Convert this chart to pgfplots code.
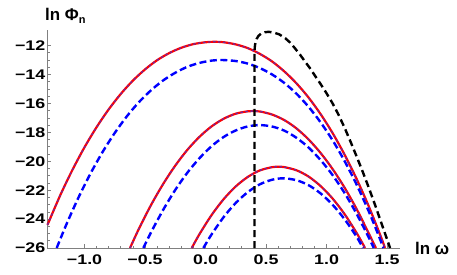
\documentclass[border=0pt]{standalone}
\usepackage{fontspec}
\setmainfont{Liberation Sans}
\newfontfamily\tickfont[FakeStretch=1.28]{Liberation Sans}
\usepackage{pgfplots}
\pgfplotsset{compat=1.18}
\usetikzlibrary{calc}
\definecolor{redc}{rgb}{1,0,0}
\definecolor{purp}{RGB}{110,40,160}
\definecolor{bluec}{rgb}{0,0,1}
\begin{document}
\begin{tikzpicture}
\begin{axis}[name=ax,
  scale only axis, width=352.5bp, height=217.9bp,
  xmin=-1.306, xmax=1.607, ymin=-26, ymax=-10.93,
  axis lines=left, axis line style={-, black!50, line width=0.8bp},
  tick align=inside,
  major tick length=4bp, minor tick length=2.4bp,
  tick style={black!50, line width=0.7bp},
  xtick={-1,-0.5,0,0.5,1,1.5},
  xticklabels={−1.0,−0.5,0.0,0.5,1.0,1.5},
  minor x tick num=4,
  ytick={-26,-24,-22,-20,-18,-16,-14,-12},
  yticklabels={−26,−24,−22,−20,−18,−16,−14,−12},
  minor y tick num=3,
  xticklabel style={font=\tickfont\bfseries\fontsize{14}{14}\selectfont, inner sep=0pt, anchor=north, yshift=-7bp},
  yticklabel style={font=\tickfont\bfseries\fontsize{14}{14}\selectfont, inner sep=0pt, anchor=east, xshift=-2bp},
  clip=false,
]
% red top (A)
\addplot[redc, line width=2.2bp, smooth] coordinates {
(-1.306,-24.40) (-1.2,-22.34) (-1.1,-20.60) (-1.0,-19.03) (-0.9,-17.64) (-0.8,-16.41) (-0.7,-15.34) (-0.6,-14.42) (-0.5,-13.65) (-0.4,-13.01) (-0.3,-12.52) (-0.2,-12.15) (-0.1,-11.90) (0.0,-11.77) (0.07,-11.74) (0.15,-11.77) (0.25,-11.92) (0.35,-12.18) (0.45,-12.58) (0.55,-13.10) (0.65,-13.78) (0.75,-14.60) (0.85,-15.58) (0.95,-16.73) (1.05,-18.05) (1.15,-19.56) (1.25,-21.25) (1.35,-23.14) (1.45,-25.24) (1.483,-26.0)};
\addplot[purp, line width=1.3bp, smooth, dash pattern=on 2.5bp off 2.5bp] coordinates {
(-1.306,-24.40) (-1.2,-22.34) (-1.1,-20.60) (-1.0,-19.03) (-0.9,-17.64) (-0.8,-16.41) (-0.7,-15.34) (-0.6,-14.42) (-0.5,-13.65) (-0.4,-13.01) (-0.3,-12.52) (-0.2,-12.15) (-0.1,-11.90) (0.0,-11.77) (0.07,-11.74) (0.15,-11.77) (0.25,-11.92) (0.35,-12.18) (0.45,-12.58) (0.55,-13.10) (0.65,-13.78) (0.75,-14.60) (0.85,-15.58) (0.95,-16.73) (1.05,-18.05) (1.15,-19.56) (1.25,-21.25) (1.35,-23.14) (1.45,-25.24) (1.483,-26.0)};
% blue top (A')
\addplot[bluec, line width=2.4bp, smooth, dash pattern=on 7bp off 3.5bp] coordinates {
(-1.23,-26.0) (-1.15,-24.37) (-1.05,-22.51) (-0.95,-20.84) (-0.85,-19.35) (-0.75,-18.04) (-0.65,-16.89) (-0.55,-15.91) (-0.45,-15.09) (-0.35,-14.41) (-0.25,-13.88) (-0.15,-13.47) (-0.05,-13.20) (0.05,-13.04) (0.14,-13.0) (0.25,-13.07) (0.35,-13.25) (0.45,-13.56) (0.55,-14.00) (0.65,-14.58) (0.75,-15.32) (0.85,-16.22) (0.95,-17.30) (1.05,-18.55) (1.15,-20.00) (1.25,-21.64) (1.35,-23.49) (1.43,-25.13) (1.47,-26.0)};
% red middle (B)
\addplot[redc, line width=2.2bp, smooth] coordinates {
(-0.624,-26.0) (-0.55,-24.66) (-0.45,-23.02) (-0.35,-21.57) (-0.25,-20.30) (-0.15,-19.21) (-0.05,-18.31) (0.05,-17.59) (0.15,-17.06) (0.25,-16.71) (0.35,-16.545) (0.39,-16.53) (0.45,-16.56) (0.55,-16.77) (0.65,-17.15) (0.75,-17.72) (0.85,-18.48) (0.95,-19.42) (1.05,-20.54) (1.15,-21.84) (1.25,-23.33) (1.35,-25.01) (1.408,-26.0)};
\addplot[purp, line width=1.3bp, smooth, dash pattern=on 2.5bp off 2.5bp] coordinates {
(-0.624,-26.0) (-0.55,-24.66) (-0.45,-23.02) (-0.35,-21.57) (-0.25,-20.30) (-0.15,-19.21) (-0.05,-18.31) (0.05,-17.59) (0.15,-17.06) (0.25,-16.71) (0.35,-16.545) (0.39,-16.53) (0.45,-16.56) (0.55,-16.77) (0.65,-17.15) (0.75,-17.72) (0.85,-18.48) (0.95,-19.42) (1.05,-20.54) (1.15,-21.84) (1.25,-23.33) (1.35,-25.01) (1.408,-26.0)};
% blue middle (B')
\addplot[bluec, line width=2.4bp, smooth, dash pattern=on 7bp off 3.5bp] coordinates {
(-0.514,-26.0) (-0.45,-24.91) (-0.35,-23.36) (-0.25,-21.98) (-0.15,-20.79) (-0.05,-19.79) (0.05,-18.96) (0.15,-18.32) (0.25,-17.87) (0.35,-17.59) (0.45,-17.5) (0.55,-17.60) (0.65,-17.88) (0.75,-18.37) (0.85,-19.04) (0.95,-19.91) (1.05,-20.96) (1.15,-22.21) (1.25,-23.66) (1.35,-25.29) (1.39,-26.0)};
% red bottom (C)
\addplot[redc, line width=2.2bp, smooth] coordinates {
(-0.114,-26.0) (-0.05,-25.04) (0.05,-23.72) (0.15,-22.62) (0.25,-21.74) (0.35,-21.08) (0.45,-20.63) (0.55,-20.41) (0.602,-20.38) (0.65,-20.405) (0.75,-20.62) (0.85,-21.05) (0.95,-21.71) (1.05,-22.58) (1.15,-23.67) (1.25,-24.98) (1.318,-26.0)};
\addplot[purp, line width=1.3bp, smooth, dash pattern=on 2.5bp off 2.5bp] coordinates {
(-0.114,-26.0) (-0.05,-25.04) (0.05,-23.72) (0.15,-22.62) (0.25,-21.74) (0.35,-21.08) (0.45,-20.63) (0.55,-20.41) (0.602,-20.38) (0.65,-20.405) (0.75,-20.62) (0.85,-21.05) (0.95,-21.71) (1.05,-22.58) (1.15,-23.67) (1.25,-24.98) (1.318,-26.0)};
% blue bottom (C')
\addplot[bluec, line width=2.4bp, smooth, dash pattern=on 7bp off 3.5bp] coordinates {
(-0.018,-26.0) (0.05,-25.06) (0.15,-23.86) (0.25,-22.88) (0.35,-22.13) (0.45,-21.59) (0.55,-21.28) (0.643,-21.18) (0.75,-21.31) (0.85,-21.65) (0.95,-22.22) (1.05,-23.01) (1.15,-24.02) (1.25,-25.24) (1.30,-26.0)};
% black dashed
\addplot[black, line width=2.4bp, dash pattern=on 7bp off 4bp] coordinates {
(0.405,-26.0) (0.405,-12.4) (0.407,-12.1) (0.412,-11.8) (0.422,-11.55) (0.437,-11.33) (0.46,-11.17) (0.49,-11.08) (0.52,-11.05) (0.56,-11.09) (0.61,-11.23) (0.66,-11.5) (0.70,-11.8) (0.74,-12.2) (0.78,-12.62) (0.82,-13.08) (0.86,-13.53) (0.90,-14.03) (0.95,-14.65) (1.00,-15.3) (1.05,-16.0) (1.10,-16.8) (1.15,-17.7) (1.20,-18.68) (1.25,-19.7) (1.30,-20.75) (1.35,-21.85) (1.40,-23.0) (1.45,-24.2) (1.50,-25.4) (1.525,-26.0)};
\end{axis}
\node[anchor=base west, inner sep=0pt, font=\bfseries\fontsize{17}{17}\selectfont] at ($(ax.north west)+(-2.5bp,10bp)$) {ln Φ\raisebox{-0.35ex}{\fontsize{11}{11}\selectfont n}};
\node[anchor=west, inner sep=0pt, font=\bfseries\fontsize{17}{17}\selectfont] at ($(ax.south east)+(15bp,0bp)$) {ln ω};
\pgfresetboundingbox
\path[use as bounding box] ($(ax.south west)+(-47.5bp,-27bp)$) rectangle ($(ax.south west)+(409.5bp,248bp)$);
\end{tikzpicture}
\end{document}
